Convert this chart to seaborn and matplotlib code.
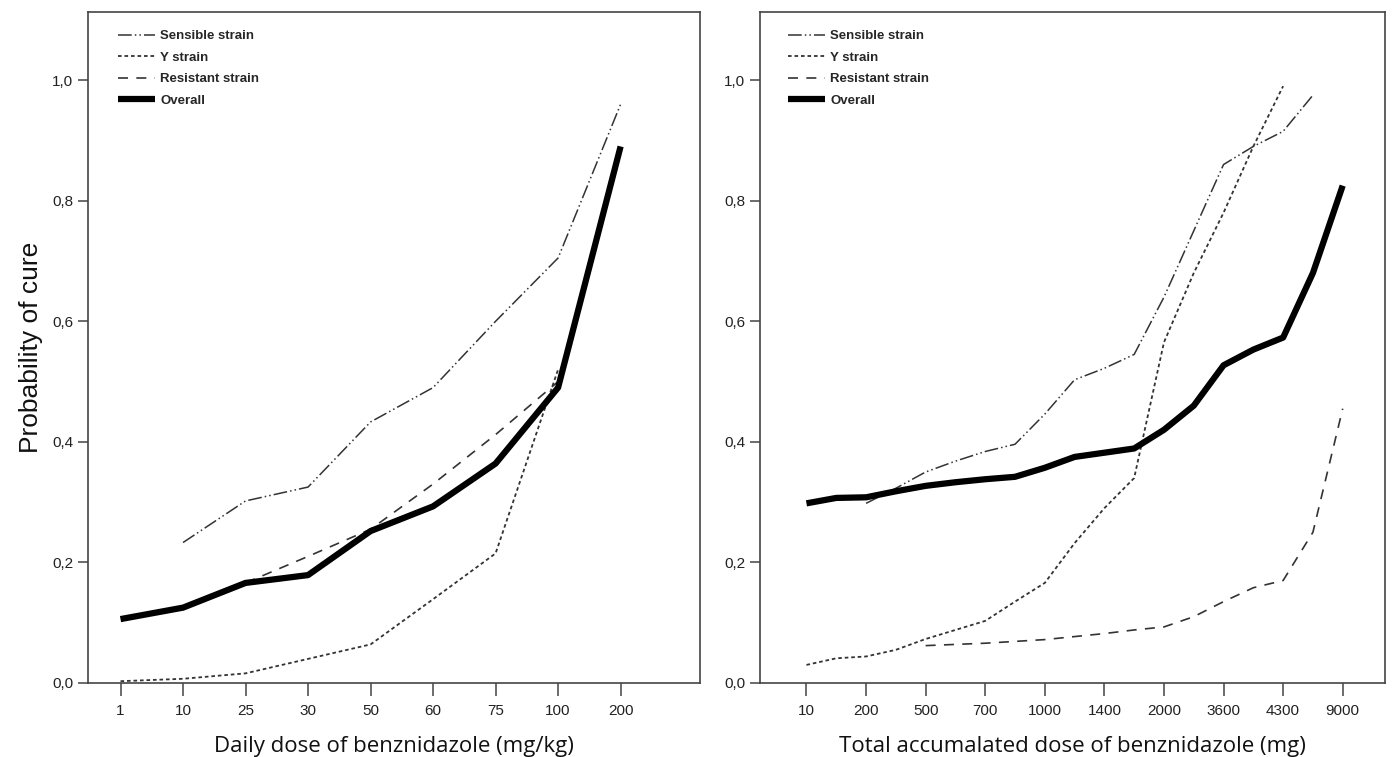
import matplotlib
matplotlib.use('Agg')
import matplotlib.pyplot as plt
import pandas as pd
import seaborn as sns

# Left panel: daily dose categories
daily_labels = ['1', '10', '25', '30', '50', '60', '75', '100', '200']
daily_sensible = [None, 0.233, 0.302, 0.325, 0.433, 0.490, 0.600, 0.705, 0.960]
daily_y = [0.003, 0.007, 0.016, 0.040, 0.064, 0.139, 0.215, 0.520, None]
daily_resistant = [None, None, 0.166, 0.210, 0.255, 0.330, 0.412, 0.500, None]
daily_overall = [0.106, 0.125, 0.166, 0.179, 0.252, 0.293, 0.364, 0.490, 0.890]

# Right panel: total dose, 19 steps, every other one labelled
total_labels = ['10', '200', '500', '700', '1000', '1400', '2000', '3600', '4300', '9000']
total_sensible = [None, None, 0.298, 0.323, 0.350, 0.368, 0.384, 0.396, 0.446, 0.503,
                  0.522, 0.545, 0.640, 0.750, 0.860, 0.890, 0.915, 0.975, None]
total_y = [0.030, 0.041, 0.044, 0.055, 0.073, 0.088, 0.103, 0.135, 0.166, 0.232,
           0.290, 0.340, 0.565, 0.680, 0.780, 0.890, 0.990, None, None]
total_resistant = [None, None, None, None, 0.062, 0.064, 0.066, 0.069, 0.072, 0.077,
                   0.082, 0.088, 0.093, 0.110, 0.135, 0.158, 0.170, 0.250, 0.455]
total_overall = [0.298, 0.307, 0.308, 0.318, 0.327, 0.333, 0.338, 0.342, 0.357, 0.375,
                 0.382, 0.389, 0.420, 0.460, 0.527, 0.553, 0.573, 0.680, 0.825]

series_names = ['Sensible strain', 'Y strain', 'Resistant strain', 'Overall']
styles = {
    'Sensible strain': dict(color='#333333', lw=1.1, linestyle=(0, (9, 2, 1, 2, 1, 2))),
    'Y strain': dict(color='#333333', lw=1.3, linestyle=(0, (2, 1.6))),
    'Resistant strain': dict(color='#333333', lw=1.2, linestyle=(0, (6, 5))),
    'Overall': dict(color='black', lw=4.5, linestyle='-', solid_capstyle='butt'),
}

sns.set_style('white')
plt.rcParams['font.family'] = ['Liberation Sans', 'DejaVu Sans']

fig = plt.figure(figsize=(13.92, 7.57), dpi=100)
ax1 = fig.add_axes([88 / 1392, 74 / 757, 612 / 1392, 671 / 757])
ax2 = fig.add_axes([760 / 1392, 74 / 757, 625 / 1392, 671 / 757])


def draw(ax, x, data):
    for name, vals in zip(series_names, data):
        s = pd.Series(vals, index=x, dtype=float).dropna()
        sns.lineplot(x=s.index, y=s.values, ax=ax, label=name, estimator=None,
                     sort=False, **styles[name])


draw(ax1, list(range(len(daily_labels))),
     [daily_sensible, daily_y, daily_resistant, daily_overall])
draw(ax2, [i / 2 for i in range(len(total_overall))],
     [total_sensible, total_y, total_resistant, total_overall])

yticks = [0, 0.2, 0.4, 0.6, 0.8, 1.0]
for ax, lx in ((ax1, 30 / 612), (ax2, 28 / 625)):
    ax.set_ylim(0, 1.113)
    ax.set_yticks(yticks)
    ax.set_yticklabels([f'{v:.1f}'.replace('.', ',') for v in yticks])
    for sp in ax.spines.values():
        sp.set_visible(True)
        sp.set_color('#444444')
        sp.set_linewidth(1.2)
    ax.tick_params(axis='both', which='major', direction='out', length=7, width=1.1,
                   color='#444444', labelsize=11, labelcolor='#222222',
                   bottom=True, left=True, top=False, right=False)
    ax.tick_params(axis='x', length=9, pad=6)
    ax.grid(False)
    ax.legend(loc='upper left', bbox_to_anchor=(lx, 0.973), frameon=False,
              borderpad=0, borderaxespad=0, handlelength=2.8,
              handletextpad=0.4, labelspacing=0.7,
              prop=dict(family='Liberation Sans', weight='bold', size=9.5))

ax1.set_xlim(-0.52, 9.27)
ax1.set_xticks(range(len(daily_labels)))
ax1.set_xticklabels(daily_labels)
ax2.set_xlim(-0.78, 9.71)
ax2.set_xticks(range(len(total_labels)))
ax2.set_xticklabels(total_labels)

lab = dict(family='Open Sans', size=16, color='#111111')
ax1.set_xlabel('Daily dose of benznidazole (mg/kg)', labelpad=13, **lab)
ax2.set_xlabel('Total accumalated dose of benznidazole (mg)', labelpad=13, **lab)
ax1.set_ylabel('Probability of cure', labelpad=7, family='Liberation Sans',
               size=19, color='#111111')
ax2.set_ylabel('')

fig.savefig('out.png', dpi=100)
